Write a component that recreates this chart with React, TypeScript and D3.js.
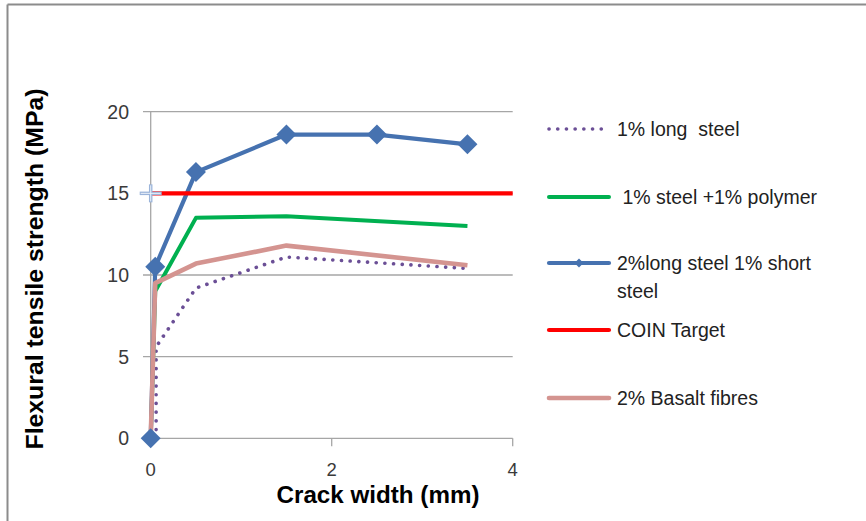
import React from 'react';
import * as d3 from 'd3';

// crack width (mm) / flexural tensile strength (MPa)
const longSteelX = [0.06, 0.06, 0.5, 1.5, 3.5];
const longSteelY = [0, 5.6, 9.2, 11.1, 10.4];

const polymerX = [0, 0.05, 0.5, 1.5, 3.5];
const polymerY = [0, 9.0, 13.5, 13.6, 13.0];

const hybridX = [0, 0.05, 0.5, 1.5, 2.5, 3.5];
const hybridY = [0, 10.5, 16.3, 18.6, 18.6, 18.0];

const coinX = [0, 4];
const coinY = [15, 15];

const basaltX = [0, 0.05, 0.5, 1.5, 3.5];
const basaltY = [0, 9.5, 10.7, 11.8, 10.6];

const xTicks = [0, 2, 4];
const yTicks = [0, 5, 10, 15, 20];

const legendLabels = ['1% long  steel', ' 1% steel +1% polymer', '2%long steel 1% short|steel', 'COIN Target', '2% Basalt fibres'];

const W = 866;
const H = 521;
const FONT = '"Liberation Sans", Arial, sans-serif';

type Pt = [number, number];
const zip = (xs: number[], ys: number[]): Pt[] => xs.map((v, i) => [v, ys[i]]);

const App: React.FC = () => {
  const x = d3.scaleLinear().domain([0, 4]).range([150.7, 512.7]);
  const y = d3.scaleLinear().domain([0, 20]).range([438.3, 111.7]);
  const line = d3.line<Pt>().x(d => x(d[0])).y(d => y(d[1]));

  const series = [
    { pts: zip(longSteelX, longSteelY), color: '#6b4f96', width: 3.6, dash: '0.1 8.6', cap: 'round' },
    { pts: zip(polymerX, polymerY), color: '#00b050', width: 4, dash: undefined, cap: 'butt' },
    { pts: zip(hybridX, hybridY), color: '#4672b0', width: 4.2, dash: undefined, cap: 'butt', diamonds: true },
    { pts: zip(coinX, coinY), color: '#ff0000', width: 4.2, dash: undefined, cap: 'butt' },
    { pts: zip(basaltX, basaltY), color: '#d49490', width: 4.6, dash: undefined, cap: 'butt' },
  ];

  const diamond = (cx: number, cy: number, r: number) =>
    `M${cx},${cy - r}L${cx + r},${cy}L${cx},${cy + r}L${cx - r},${cy}Z`;

  const legendRows = [129, 197, 263, 330, 398];
  const gray = '#a6a6a6';

  return (
    <svg width={W} height={H} style={{ position: 'fixed', left: 0, top: 0, background: '#fff' }} fontFamily={FONT}>
      {/* frame */}
      <line x1={7.5} y1={4.5} x2={W} y2={4.5} stroke="#8c8c8c" strokeWidth={2} />
      <line x1={7.5} y1={4.5} x2={7.5} y2={H} stroke="#8c8c8c" strokeWidth={2} />

      {/* grid + y ticks */}
      {yTicks.map(t => (
        <g key={t}>
          <line x1={143} x2={t === 0 ? x(0) : x(4)} y1={y(t)} y2={y(t)} stroke={gray} strokeWidth={1.3} />
          <text x={129} y={y(t)} textAnchor="end" dominantBaseline="central" fontSize={19.5} fill="#3a3a3a">{t}</text>
        </g>
      ))}
      {/* axes */}
      <line x1={x(0)} x2={x(4)} y1={y(0)} y2={y(0)} stroke={gray} strokeWidth={1.3} />
      <line x1={x(0)} x2={x(0)} y1={y(0)} y2={y(20)} stroke={gray} strokeWidth={1.3} />
      {xTicks.map(t => (
        <g key={t}>
          <line x1={x(t)} x2={x(t)} y1={y(0)} y2={y(0) + 8} stroke={gray} strokeWidth={1.3} />
          <text x={x(t)} y={475.5} textAnchor="middle" fontSize={18.5} fill="#3a3a3a">{t}</text>
        </g>
      ))}

      {/* series */}
      {series.map((s, i) => (
        <path key={i} d={line(s.pts) ?? ''} fill="none" stroke={s.color} strokeWidth={s.width}
          strokeDasharray={s.dash} strokeLinecap={s.cap as any} strokeLinejoin="round" />
      ))}
      {zip(hybridX, hybridY).map((p, i) => (
        <path key={i} d={diamond(x(p[0]), y(p[1]), 10)} fill="#4672b0" />
      ))}
      {/* plus marker on the target line */}
      <g stroke="#9bb4da" strokeWidth={3.5}>
        <line x1={x(coinX[0]) - 11} x2={x(coinX[0]) + 11} y1={y(coinY[0])} y2={y(coinY[0])} />
        <line x1={x(coinX[0])} x2={x(coinX[0])} y1={y(coinY[0]) - 9} y2={y(coinY[0]) + 9} />
      </g>
      <g stroke="#eaf0f8" strokeWidth={1}>
        <line x1={x(coinX[0]) - 10} x2={x(coinX[0]) + 10} y1={y(coinY[0])} y2={y(coinY[0])} />
        <line x1={x(coinX[0])} x2={x(coinX[0])} y1={y(coinY[0]) - 8} y2={y(coinY[0]) + 8} />
      </g>

      {/* axis titles */}
      <text x={378} y={502.5} textAnchor="middle" fontSize={24.2} fontWeight="bold" fill="#000">Crack width (mm)</text>
      <text transform="translate(34,269) rotate(-90)" textAnchor="middle" dominantBaseline="central"
        fontSize={24.8} fontWeight="bold" fill="#000">Flexural tensile strength (MPa)</text>

      {/* legend */}
      {series.map((s, i) => {
        const ly = legendRows[i];
        const lines = legendLabels[i].split('|');
        return (
          <g key={i}>
            <line x1={549} x2={609} y1={ly} y2={ly} stroke={s.color} strokeWidth={s.width}
              strokeDasharray={s.dash} strokeLinecap="round" />
            {s.diamonds && <path d={diamond(579, ly, 4.5)} fill={s.color} />}
            {lines.map((t, j) => (
              <text key={j} x={617} y={ly + j * 28} dominantBaseline="central" fontSize={19.5} fill="#222"
                style={{ whiteSpace: 'pre' }}>{t}</text>
            ))}
          </g>
        );
      })}
    </svg>
  );
};

export default App;
